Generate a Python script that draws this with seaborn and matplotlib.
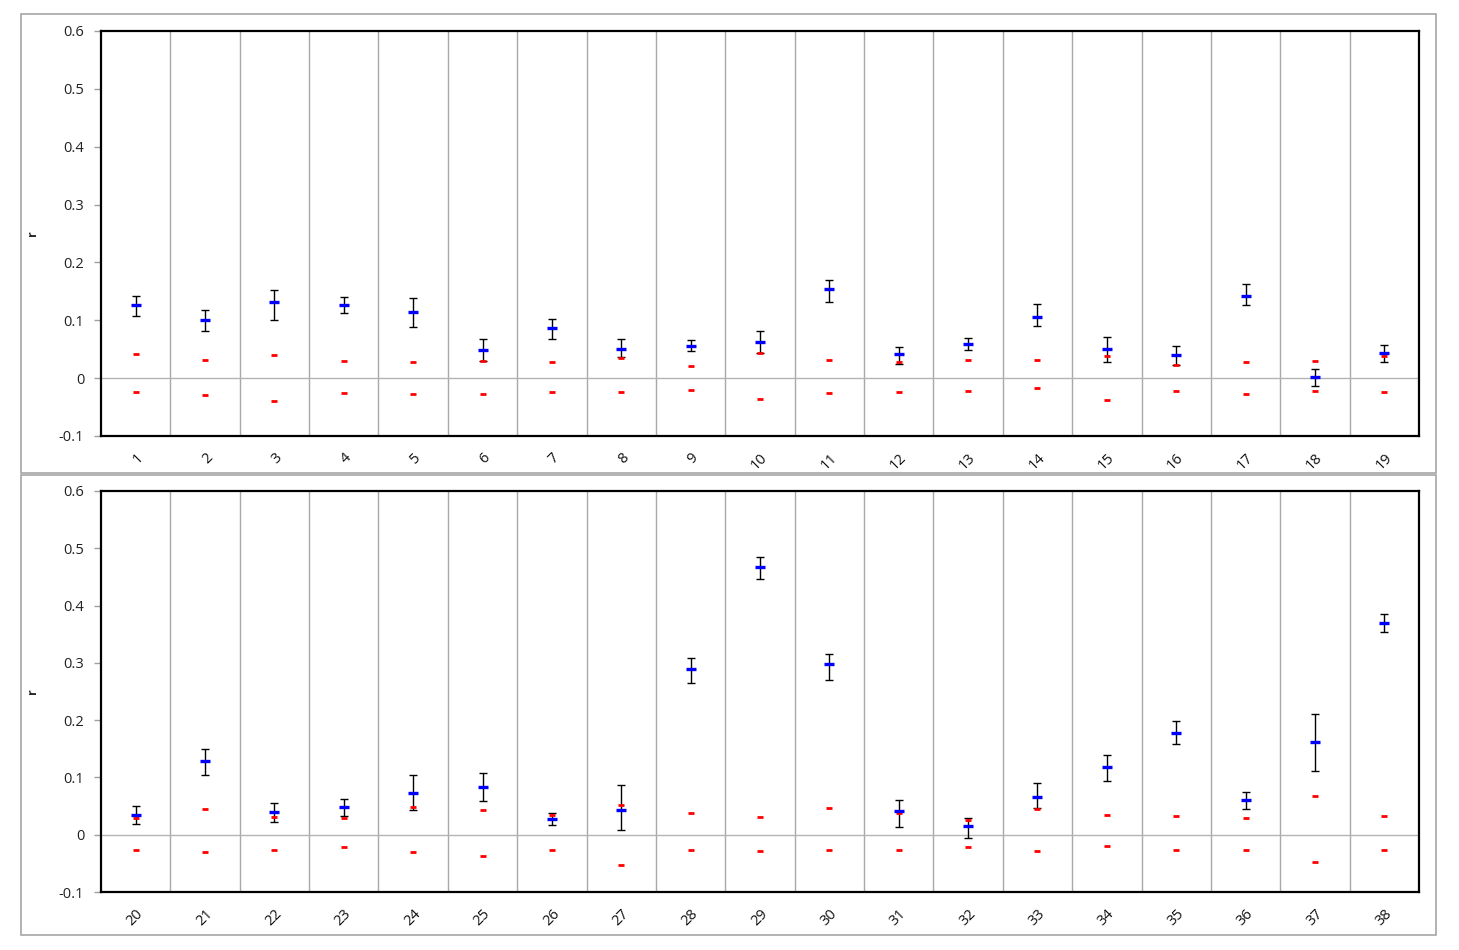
import numpy as np
import pandas as pd
import matplotlib
matplotlib.use('Agg')
from matplotlib import pyplot as plt
from matplotlib.patches import Rectangle
import seaborn as sns

# categories 1..38, split over two panels
labels = [str(i) for i in range(1, 39)]

r_mean = [0.127, 0.100, 0.131, 0.127, 0.115, 0.048, 0.086, 0.051, 0.055, 0.062,
          0.154, 0.041, 0.059, 0.105, 0.051, 0.040, 0.142, 0.002, 0.043,
          0.035, 0.128, 0.040, 0.049, 0.072, 0.083, 0.027, 0.043, 0.289, 0.467,
          0.298, 0.041, 0.015, 0.065, 0.118, 0.177, 0.061, 0.161, 0.370]
r_high = [0.142, 0.118, 0.152, 0.141, 0.138, 0.068, 0.103, 0.067, 0.066, 0.081,
          0.170, 0.054, 0.070, 0.129, 0.071, 0.056, 0.162, 0.015, 0.058,
          0.050, 0.150, 0.055, 0.062, 0.105, 0.108, 0.038, 0.086, 0.308, 0.485,
          0.315, 0.061, 0.030, 0.090, 0.139, 0.198, 0.075, 0.211, 0.386]
r_low = [0.107, 0.081, 0.100, 0.112, 0.088, 0.029, 0.067, 0.036, 0.047, 0.043,
         0.132, 0.024, 0.048, 0.090, 0.028, 0.023, 0.126, -0.013, 0.028,
         0.019, 0.105, 0.023, 0.033, 0.044, 0.059, 0.017, 0.009, 0.265, 0.447,
         0.270, 0.014, -0.005, 0.047, 0.093, 0.158, 0.045, 0.112, 0.354]
thr_upper = [0.041, 0.031, 0.040, 0.030, 0.028, 0.029, 0.028, 0.035, 0.021, 0.043,
             0.031, 0.028, 0.031, 0.032, 0.039, 0.023, 0.028, 0.030, 0.039,
             0.030, 0.045, 0.031, 0.030, 0.048, 0.043, 0.034, 0.051, 0.038, 0.031,
             0.046, 0.038, 0.026, 0.045, 0.034, 0.032, 0.029, 0.068, 0.032]
thr_lower = [-0.024, -0.029, -0.039, -0.026, -0.028, -0.028, -0.024, -0.024, -0.020, -0.036,
             -0.025, -0.024, -0.022, -0.017, -0.037, -0.022, -0.028, -0.022, -0.024,
             -0.027, -0.030, -0.027, -0.022, -0.031, -0.038, -0.026, -0.052, -0.027, -0.029,
             -0.027, -0.027, -0.022, -0.029, -0.020, -0.026, -0.026, -0.048, -0.026]

df = pd.DataFrame({'label': labels, 'mean': r_mean, 'high': r_high, 'low': r_low,
                   'up': thr_upper, 'lo': thr_lower})
df['pos'] = np.arange(len(df)) % 19
df['panel'] = np.arange(len(df)) // 19

sns.set_style('white')
plt.rcParams['font.family'] = ['Open Sans', 'DejaVu Sans']

f = plt.figure(figsize=(14.59, 9.5), dpi=100)

# chart frames
for y0, h in [(1 - 473 / 950, 459 / 950), (1 - 935 / 950, 460 / 950)]:
    f.patches.append(Rectangle((21 / 1459, y0), 1415 / 1459, h, transform=f.transFigure,
                               fill=False, edgecolor='#a6a6a6', lw=1.2))

axes_pos = [[101 / 1459, 1 - 436 / 950, 1318 / 1459, 405 / 950],
            [101 / 1459, 1 - 892 / 950, 1318 / 1459, 401 / 950]]

for p in range(2):
    ax = f.add_axes(axes_pos[p])
    d = df[df['panel'] == p]

    for b in np.arange(0.5, 18.5, 1):
        ax.axvline(b, color='#a8a8a8', lw=1, zorder=1)
    ax.axhline(0, color='#b4b4b4', lw=1, zorder=1)

    ax.errorbar(d['pos'], d['mean'],
                yerr=[d['mean'] - d['low'], d['high'] - d['mean']],
                fmt='none', ecolor='black', elinewidth=1, capsize=3.2,
                capthick=1, zorder=2)
    sns.scatterplot(data=d, x='pos', y='up', marker='_', s=16, linewidth=2,
                    color='red', ax=ax, zorder=3)
    sns.scatterplot(data=d, x='pos', y='lo', marker='_', s=16, linewidth=2,
                    color='red', ax=ax, zorder=3)
    sns.scatterplot(data=d, x='pos', y='mean', marker='_', s=55, linewidth=2.4,
                    color='#0000ff', ax=ax, zorder=4)

    ax.set_xlim(-0.5, 18.5)
    ax.set_ylim(-0.1, 0.6)
    ax.set_yticks(np.round(np.arange(-0.1, 0.61, 0.1), 1))
    ax.set_yticklabels(['-0.1', '0', '0.1', '0.2', '0.3', '0.4', '0.5', '0.6'])
    ax.set_xticks(d['pos'])
    ax.set_xticklabels(d['label'], rotation=45, ha='right', rotation_mode='anchor')
    ax.tick_params(axis='x', length=0, pad=10, labelsize=10.5, colors='#111111')
    ax.tick_params(axis='y', length=5, width=1, color='#a0a0a0', direction='out',
                   left=True, pad=7, labelsize=10.5, labelcolor='#222222')
    ax.set_xlabel('')
    ax.set_ylabel('r', fontsize=9, fontweight='bold', labelpad=14)
    for s in ax.spines.values():
        s.set_color('black')
        s.set_linewidth(1.6)
        s.set_visible(True)

f.savefig('out.png', dpi=100)
